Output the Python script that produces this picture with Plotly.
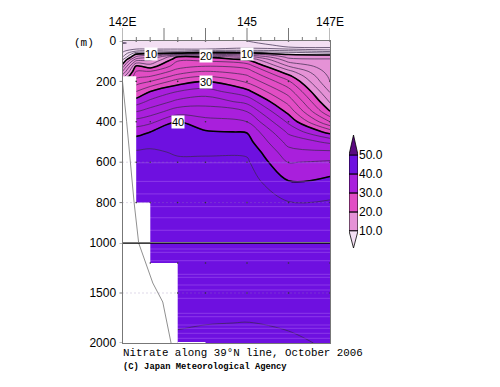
import plotly.graph_objects as go

stations = [142, 142.33, 142.67, 143.33, 144, 145, 146, 147]
station_floor = [175, 800, 1200, 2000, 2000, 2000, 2000, 2000]
depths = [0,10,20,30,40,50,60,70,80,90,100,125,150,175,200,250,300,350,400,450,500,550,600,700,800,1000,1200,1500,1800,2000]
n_142    = [2.5,1.8,2.5,2.8,3.2,3.6,4.2,5,6,7.5,8.5,11,14,17,20,25,30,34,36.8,39.2,41,42.2,42.8,43.3,43.5,43.6,43.5,43,42.5,41.5]
n_142_33 = [2.5,2.5,2.8,3.2,4,6,9,11,12.5,14.5,16.5,20.5,22,23.4,24.9,28,31,34,36.8,39.2,41,42.2,42.8,43.3,43.5,43.6,43.5,43,42.5,41.5]
n_142_67 = [2.5,2.5,2.8,3.2,4,6.5,9.5,12,14,15.3,16.5,19,22,24,26,30,32.5,35,37.5,40,41.4,42.3,42.8,43.3,43.5,43.6,43.5,43,42.5,41.5]
n_143_33 = [2.5,2.5,2.8,3.2,4,6,10,16.5,20.4,21.2,22,23.2,24.8,26.8,28.9,32,34.5,37.1,40,40.6,41.2,41.8,42.3,43,43.4,43.6,43.5,43,42.4,41.2]
n_144    = [2.5,2.5,2.8,3.2,4,7,11,16,20,21,22,24,26,28,30,32.9,35.2,37,38.7,40.2,41,41.8,42.3,43,43.4,43.6,43.5,43,42.1,41]
n_145    = [2,2.3,2.8,3.5,4.5,7,10.5,14,17.3,19.6,20.9,23.2,24.9,26.3,27.7,30.6,33.4,36,38,39.9,40.8,41.7,42.3,43,43.4,43.6,43.5,43,41.95,41]
n_146    = [1,1.2,1.5,2,4,6.5,9,10.5,11.5,12.5,13.5,16,18.6,20.6,22.3,25,27.3,29.4,31.6,33.6,35.3,36.7,37.9,40.2,42.1,43.3,43.4,43,42.4,41.4]
n_147    = [0.5,0.7,1,1.7,3,5.4,8,10.2,11.4,12.1,12.3,12.7,13.1,13.6,14,15.8,17.7,20.1,24,29.2,33.6,36.4,38.3,40.7,42.2,43,43.3,43,42.7,42.4]
columns = [n_142, n_142_33, n_142_67, n_143_33, n_144, n_145, n_146, n_147]
z = [list(r) for r in zip(*columns)]

band_colors = ["#f3dff3", "#e592d6", "#e24dc4", "#a91fdc", "#6e10e0", "#5a0a80"]
band_levels = [10, 20, 30, 40, 50]

# white area below the sea floor: right edge, left edge and top depth of each step
mask_left = [142, 142, 142, 143.33]
mask_right = [142.33, 142.67, 143.33, 144]
mask_top = [175, 800, 1200, 1990]
# sea floor line
floor_x = [142.0, 142.1, 142.28, 142.39, 142.73, 142.97, 143.17]
floor_d = [200, 400, 800, 1000, 1400, 1590, 2000]
# faint pale stripes in the deep water
stripe_d = [603, 695, 757, 820, 875, 937, 1060, 1093, 1177, 1313, 1343, 1420, 1470, 1553, 1703, 1737, 1820, 1853, 1903, 1953]

major_ticks = [142 + i / 3 for i in range(0, 16, 3)]
minor_ticks = [142 + i / 3 for i in range(16) if i % 3]
top_labels = {142: "142E", 145: "145", 147: "147E"}
upper_ticks = [0, 200, 400, 600, 800]
lower_ticks = [1000, 1500, 2000]
dot_d = [0, 200, 400, 600, 800, 1200, 1500]
labels = [(142.69, 62, "10"), (144, 75, "20"), (145, 62, "10"), (144, 203, "30"), (143.33, 403, "40")]

W, H = 500, 387
px = lambda v: v / W
py = lambda v: (H - v) / H
fig = go.Figure()

dots = [(x, d) for x, f in zip(stations, station_floor) for d in dot_d if d <= f and x > 142]
scale = [[i / 5, c] for i, c in enumerate(band_colors)]
for xa, ya in (("x", "y"), ("x2", "y2")):
    fig.add_trace(go.Contour(x=stations, y=depths, z=z, xaxis=xa, yaxis=ya, showscale=False, hoverinfo="skip",
                             colorscale=scale, zmin=5, zmax=55, autocontour=False,
                             contours=dict(start=10, end=50, size=10, coloring="fill", showlines=False),
                             line=dict(width=0)))
    for d in stripe_d:
        fig.add_trace(go.Scatter(x=[142, 147], y=[d, d], xaxis=xa, yaxis=ya, mode="lines",
                                 line=dict(color="rgba(165,90,240,0.55)", width=1), hoverinfo="skip"))
    fig.add_trace(go.Contour(x=stations, y=depths, z=z, xaxis=xa, yaxis=ya, showscale=False, hoverinfo="skip",
                             autocontour=False, contours=dict(start=2, end=48, size=2, coloring="none"),
                             line=dict(color="#3a2a4a", width=0.7)))
    fig.add_trace(go.Contour(x=stations, y=depths, z=z, xaxis=xa, yaxis=ya, showscale=False, hoverinfo="skip",
                             autocontour=False, contours=dict(start=10, end=50, size=10, coloring="none"),
                             line=dict(color="black", width=1.6)))
    for l, r, t in zip(mask_left, mask_right, mask_top):
        fig.add_trace(go.Scatter(x=[l, r, r, l, l], y=[t, t, 2000, 2000, t], xaxis=xa, yaxis=ya, mode="lines",
                                 fill="toself", fillcolor="white", line=dict(width=0), hoverinfo="skip"))
    fig.add_trace(go.Scatter(x=floor_x, y=floor_d, xaxis=xa, yaxis=ya, mode="lines",
                             line=dict(color="#909090", width=1), hoverinfo="skip"))
    fig.add_trace(go.Scatter(x=[p[0] for p in dots], y=[p[1] for p in dots],
                             xaxis=xa, yaxis=ya, mode="markers", marker=dict(color="#333333", size=1.6), hoverinfo="skip"))
    for d in (600, 800, 1500):
        fig.add_trace(go.Scatter(x=[142, 147], y=[d, d], xaxis=xa, yaxis=ya, mode="lines",
                                 line=dict(color="rgba(150,130,180,0.6)", width=1, dash="1px 3px"), hoverinfo="skip"))

fig.add_trace(go.Scatter(x=[142, 147], y=[1000, 1000], xaxis="x2", yaxis="y2", mode="lines", cliponaxis=False,
                         line=dict(color="black", width=1.5), hoverinfo="skip"))

# colour key
for lo, c in zip(band_levels[:-1], band_colors[1:5]):
    fig.add_trace(go.Bar(x=[0], y=[10], base=[lo], width=[1], xaxis="x3", yaxis="y3", marker=dict(color=c, line=dict(color="black", width=1)),
                         hoverinfo="skip"))
fig.add_trace(go.Scatter(x=[-0.5, 0, 0.5, -0.5], y=[10, 1, 10, 10], xaxis="x3", yaxis="y3", mode="lines", fill="toself",
                         fillcolor=band_colors[0], line=dict(color="black", width=0.8), hoverinfo="skip"))
fig.add_trace(go.Scatter(x=[-0.5, 0, 0.5, -0.5], y=[50, 60.5, 50, 50], xaxis="x3", yaxis="y3", mode="lines", fill="toself",
                         fillcolor=band_colors[5], line=dict(color="black", width=0.8), hoverinfo="skip"))

for x, d, t in labels:
    fig.add_annotation(x=x, y=d, xref="x", yref="y", text=t, showarrow=False, bgcolor="white", borderpad=0,
                       font=dict(family="Liberation Sans", size=11, color="black"))

# tick marks
tick_line = dict(color="#777777", width=1)
for t in major_ticks:
    fig.add_shape(type="line", xref="x", yref="paper", x0=t, x1=t, y0=py(41), y1=py(28), line=tick_line)
for t in minor_ticks:
    fig.add_shape(type="line", xref="x", yref="paper", x0=t, x1=t, y0=py(41), y1=py(37), line=tick_line)
for t in upper_ticks:
    fig.add_shape(type="line", xref="paper", yref="y", x0=px(119.5), x1=px(122.5), y0=t, y1=t, line=tick_line)
for t in lower_ticks:
    fig.add_shape(type="line", xref="paper", yref="y2", x0=px(119.5), x1=px(122.5), y0=t, y1=t, line=tick_line)

font = dict(family="Liberation Sans", size=12, color="black")
frame = dict(showline=True, linecolor="#777777", linewidth=1, mirror=True, showgrid=False, zeroline=False, automargin=False)
fig.update_layout(
    width=W, height=H, margin=dict(l=0, r=0, t=0, b=0, autoexpand=False), paper_bgcolor="white", plot_bgcolor="white",
    showlegend=False, barmode="overlay",
    xaxis=dict(domain=[px(122.5), px(330)], range=[142, 147], side="top", anchor="y", tickmode="array",
               tickvals=major_ticks, ticktext=[top_labels.get(round(t), "") for t in major_ticks],
               ticks="outside", ticklen=9, tickcolor="rgba(0,0,0,0)", tickfont=font, **frame),
    yaxis=dict(domain=[py(243), py(41)], range=[1000, 0], anchor="x", tickmode="array", tickvals=upper_ticks,
               ticks="outside", ticklen=3, tickcolor="rgba(0,0,0,0)", tickfont=font, **frame),
    xaxis2=dict(domain=[px(122.5), px(330)], range=[142, 147], anchor="y2", matches="x", showticklabels=False, ticks="", **frame),
    yaxis2=dict(domain=[py(343), py(243)], range=[2000, 1000], anchor="x2", tickmode="array", tickvals=lower_ticks,
                ticks="outside", ticklen=3, tickcolor="rgba(0,0,0,0)", tickfont=font, **frame),
    xaxis3=dict(domain=[px(349), px(358)], range=[-0.5, 0.5], anchor="y3", visible=False),
    yaxis3=dict(domain=[py(248), py(135)], range=[1, 60.5], anchor="x3", side="right", tickmode="array",
                tickvals=band_levels, ticktext=[f"{v:.1f}" for v in band_levels], ticks="", showgrid=False, zeroline=False,
                showline=False, tickfont=dict(family="Liberation Sans", size=12, color="black")),
)
fig.add_annotation(x=px(72), y=py(43), xref="paper", yref="paper", xanchor="left", yanchor="middle", text="(m)", showarrow=False,
                   font=dict(family="Liberation Mono", size=11, color="black"))
fig.add_annotation(x=px(121), y=py(353), xref="paper", yref="paper", xanchor="left", yanchor="middle", text="Nitrate along 39°N line, October 2006",
                   showarrow=False, font=dict(family="Liberation Mono", size=10.8, color="black"))
fig.add_annotation(x=px(121), y=py(367), xref="paper", yref="paper", xanchor="left", yanchor="middle", text="<b>(C) Japan Meteorological Agency</b>",
                   showarrow=False, font=dict(family="Liberation Mono", size=8.8, color="black"))

fig.write_html("out.html", config=dict(displayModeBar=False), post_script="document.body.style.margin='0';document.documentElement.style.overflow='hidden';")
